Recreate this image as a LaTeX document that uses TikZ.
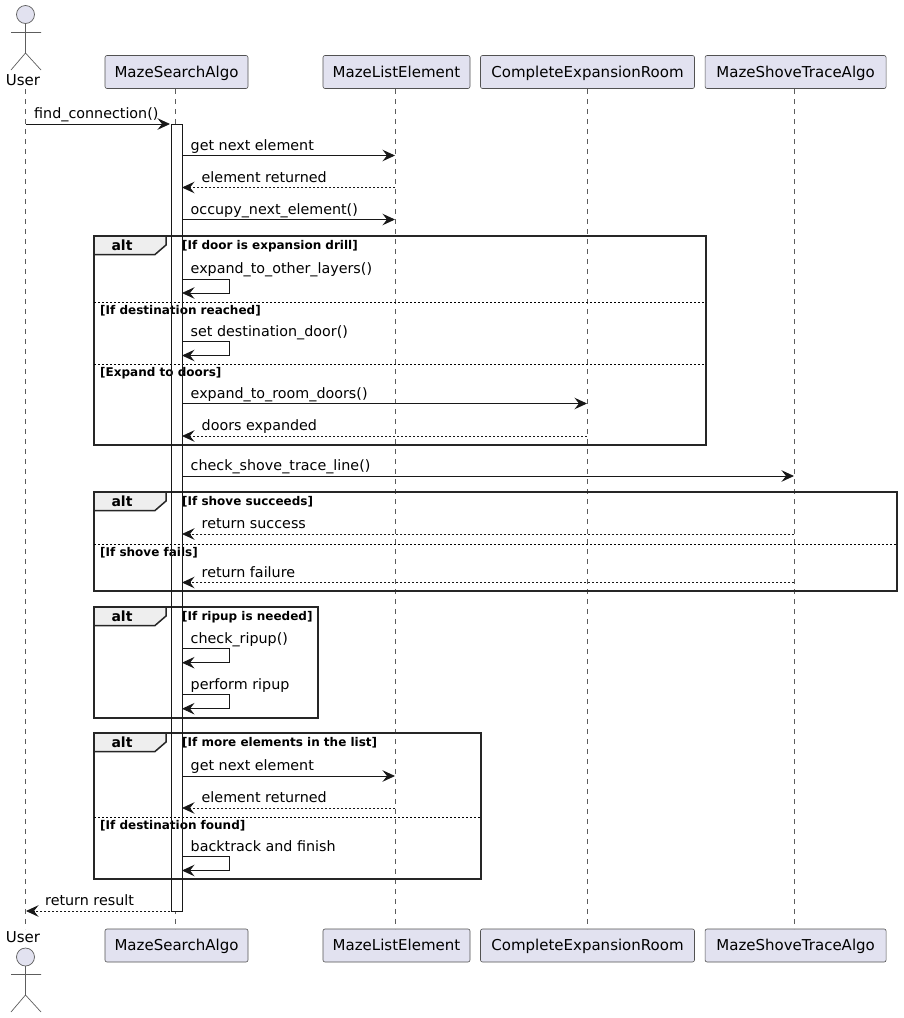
\documentclass[tikz,border=0pt]{standalone}
\usepackage{fontspec}
\setmainfont{DejaVu Sans}
\usetikzlibrary{arrows.meta}
\definecolor{partfill}{HTML}{E2E2F0}
\definecolor{partline}{HTML}{181818}
\definecolor{tabfill}{HTML}{EEEEEE}
\tikzset{
  participant/.style={draw=partline!75, fill=partfill, rounded corners=2pt, line width=0.6pt,
    minimum height=33pt, inner sep=0pt, text height=13pt, text depth=3pt, font=\fontsize{15}{17}\selectfont},
  actorname/.style={inner sep=0pt, text height=13pt, text depth=3pt, font=\fontsize{15}{17}\selectfont},
  lifeline/.style={draw=partline!70, line width=0.5pt, dash pattern=on 5pt off 5pt},
  actorline/.style={draw=partline!70, line width=0.7pt},
  msg/.style={draw=partline, line width=0.9pt, -{Stealth[length=12.5pt,width=11.5pt,inset=4.5pt]}},
  reply/.style={msg, dash pattern=on 2pt off 2pt},
  msgtext/.style={anchor=base west, inner sep=0pt, font=\fontsize{14.3}{17}\selectfont},
  guardtext/.style={anchor=base west, inner sep=0pt, font=\fontsize{12}{14}\bfseries\selectfont},
  frameline/.style={draw=black!85, line width=1.5pt},
  divider/.style={draw=black, line width=0.8pt, dash pattern=on 2pt off 2pt},
  activebar/.style={draw=partline, line width=0.9pt},
}
\begin{document}
\begin{tikzpicture}[x=1pt,y=-1pt]
  \useasboundingbox (0,0) rectangle (904,1018);

  % Teilnehmer oben und unten
  \foreach \name/\xc/\lx/\bw/\txt in {algo/176.5/175.5/143/MazeSearchAlgo, list/396.5/395.5/147/MazeListElement,
      room/587.5/587.3/214/CompleteExpansionRoom, shove/795.6/794.3/181/MazeShoveTraceAlgo} {
    \node[participant, minimum width=\bw pt] (\name top) at (\xc,72) {\txt};
    \node[participant, minimum width=\bw pt] (\name bot) at (\xc,945.5) {\txt};
    \coordinate (\name linetop) at (\lx,89);
    \coordinate (\name linebot) at (\lx,929);
    \draw[lifeline] (\name linetop) -- (\name linebot);
  }

  % Akteur oben
  \node[actorname] (usertop) at (23,80) {User};
  \node[actorname] (userbot) at (23,937) {User};
  \coordinate (userlinetop) at (25.5,89);
  \coordinate (userlinebot) at (25.5,929);
  \draw[lifeline] (userlinetop) -- (userlinebot);
  \foreach \y in {14.5, 957} {
    \draw[actorline, fill=partfill] (25.5,\y) circle (9);
  }
  \draw[actorline] (25.5,23.5) -- (25.5,53) (11,32.5) -- (41,32.5) (11,70) -- (25.5,53) -- (41,70);
  \draw[actorline] (25.5,966) -- (25.5,995) (11,974.5) -- (41,974.5) (11,1012) -- (25.5,995) -- (41,1012);

  % Aktivierung
  \fill[white] (171,124) rectangle (182,911);

  % Rahmen
  \foreach \name/\xr/\ya/\yb/\txt in {a/706/236/445/If door is expansion drill, b/897/492/591/If shove succeeds,
      c/318/607/718/If ripup is needed, d/481/733/879/If more elements in the list} {
    \draw[frameline, fill=tabfill] (94,\ya) -- (166,\ya) -- (166,\ya+9) -- (155,\ya+18.5) -- (94,\ya+18.5) -- cycle;
    \draw[frameline] (94,\ya) rectangle (\xr,\yb);
    \node[anchor=base, inner sep=0pt, font=\fontsize{14}{16}\bfseries\selectfont] (\name alt) at (122,\ya+14) {alt};
    \node[guardtext] (\name guard) at (182,\ya+13.5) {[\txt]};
  }

  % Trennlinien
  \foreach \name/\xr/\y/\txt in {e/706/302/If destination reached, f/706/364/Expand to doors,
      g/897/544/If shove fails, h/481/817/If destination found} {
    \draw[divider] (94,\y) -- (\xr,\y);
    \node[guardtext] (\name guard) at (100,\y+12) {[\txt]};
  }

  % Rand der Aktivierung liegt ueber den Texten
  \draw[activebar] (171,124) rectangle (182,911);

  % Nachrichten
  \foreach \name/\xa/\xb/\y/\sty/\xt/\txt in {
      m/25.5/170/124/msg/34/find\_connection(),
      n/182/395/155.5/msg/190.5/get next element,
      o/395/182/187.5/reply/201.5/element returned,
      p/182/395/219.5/msg/190.5/occupy\_next\_element(),
      q/182/587/403.5/msg/190.5/expand\_to\_room\_doors(),
      r/587/182/436/reply/201.5/doors expanded,
      s/182/794/476/msg/190.5/check\_shove\_trace\_line(),
      t/794/182/534/reply/201.5/return success,
      u/794/182/582.5/reply/201.5/return failure,
      v/182/395/776/msg/190.5/get next element,
      w/395/182/808/reply/201.5/element returned,
      x/170/26/911/reply/45/return result} {
    \coordinate (\name start) at (\xa,\y);
    \coordinate (\name end) at (\xb,\y);
    \draw[\sty] (\name start) -- (\name end);
    \node[msgtext] (\name label) at (\xt,\y-5.5) {\txt};
  }

  % Selbstaufrufe
  \foreach \name/\y/\txt in {aa/279/expand\_to\_other\_layers(), bb/341.5/set destination\_door(),
      cc/648.7/check\_ripup(), dd/694.7/perform ripup, ee/856.5/backtrack and finish} {
    \coordinate (\name start) at (182,\y);
    \coordinate (\name end) at (182,\y+14);
    \draw[msg] (\name start) -- ++(47,0) -- ++(0,14) -- (\name end);
    \node[msgtext] (\name label) at (190.5,\y-5.5) {\txt};
  }
\end{tikzpicture}
\end{document}
